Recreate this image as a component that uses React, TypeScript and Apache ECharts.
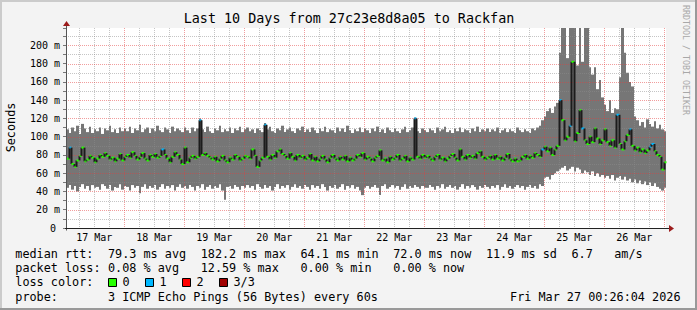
import React, { useEffect, useRef } from 'react';
import * as echarts from 'echarts';

// x values are hours after 17 Mar 00:00; each sample covers one hour
const START_HOUR = 0.7;
const SPAN_HOURS = 240;
const BIN_HOURS = 1;

const dayLabels = ['17 Mar', '18 Mar', '19 Mar', '20 Mar', '21 Mar', '22 Mar', '23 Mar', '24 Mar', '25 Mar', '26 Mar'];

// median round trip time (ms), one value per hour
const medianRtt = [
  76, 88, 70, 67, 74, 79, 88, 73, 75, 79, 77, 72, 76, 80, 78, 82, 79, 75, 77, 73, 76, 81, 74, 78,
  80, 77, 83, 79, 75, 78, 82, 76, 74, 80, 78, 81, 77, 79, 86, 80, 76, 72, 78, 83, 80, 75, 70, 88,
  72, 77, 79, 76, 78, 118, 80, 82, 79, 77, 75, 78, 73, 76, 79, 74, 72, 77, 75, 80, 78, 74, 76, 79,
  78, 76, 86, 79, 67, 74, 77, 113, 78, 75, 80, 77, 84, 86, 81, 79, 76, 82, 78, 74, 80, 77, 79, 75,
  77, 81, 74, 78, 73, 76, 79, 75, 72, 77, 80, 76, 74, 78, 75, 79, 73, 77, 74, 76, 80, 78, 82, 75,
  78, 76, 73, 77, 79, 85, 74, 76, 72, 78, 75, 77, 80, 74, 76, 79, 73, 77, 75, 120, 78, 76, 80, 77,
  79, 76, 74, 78, 80, 75, 77, 73, 76, 79, 81, 77, 74, 86, 78, 75, 80, 77, 79, 76, 82, 84, 78, 75,
  77, 79, 75, 80, 76, 78, 74, 77, 81, 75, 73, 76, 73, 74, 78, 80, 76, 79, 77, 82, 80, 78, 86, 89,
  84, 88, 80, 86, 90, 140, 118, 96, 100, 112, 182, 95, 104, 129, 109, 96, 92, 100, 94, 109, 98, 92, 96, 108,
  94, 90, 96, 88, 124, 92, 86, 95, 102, 108, 90, 85, 88, 83, 86, 82, 85, 89, 92, 84, 80, 78, 64, 72,
];

// highest ping of each hour (ms)
const smokeHigh = [
  108, 104, 110, 106, 112, 103, 114, 109, 105, 111, 104, 108, 106, 110, 103, 109, 107, 112, 105, 108, 104, 110, 106, 109,
  106, 111, 104, 109, 107, 113, 105, 108, 110, 104, 109, 106, 112, 107, 105, 110, 108, 104, 111, 106, 109, 107, 105, 110,
  107, 104, 110, 106, 109, 120, 108, 105, 111, 106, 104, 109, 107, 112, 105, 108, 106, 110, 104, 109, 107, 111, 105, 108,
  110, 106, 108, 104, 109, 107, 105, 115, 108, 111, 106, 104, 109, 107, 112, 105, 108, 110, 106, 104, 109, 107, 111, 105,
  108, 105, 110, 107, 104, 109, 106, 111, 105, 108, 107, 104, 110, 106, 109, 105, 112, 107, 104, 108, 106, 110, 105, 109,
  107, 104, 109, 106, 111, 105, 108, 104, 110, 107, 105, 109, 106, 104, 108, 111, 105, 107, 110, 121, 106, 104, 109, 107,
  105, 109, 107, 104, 110, 106, 108, 111, 105, 107, 104, 109, 106, 110, 105, 108, 107, 104, 109, 106, 111, 105, 108, 106,
  109, 105, 108, 106, 110, 104, 107, 109, 105, 108, 106, 104, 110, 107, 105, 108, 106, 104, 109, 107, 110, 112, 118, 122,
  128, 131, 126, 133, 137, 192, 225, 230, 186, 230, 230, 230, 178, 230, 182, 230, 230, 176, 168, 176, 152, 162, 143, 135,
  128, 140, 126, 131, 130, 165, 230, 192, 170, 160, 155, 122, 118, 112, 116, 110, 119, 114, 111, 117, 109, 113, 108, 106,
];

// lowest ping of each hour (ms)
const smokeLow = [
  44, 47, 42, 46, 40, 45, 48, 43, 46, 41, 47, 44, 45, 42, 48, 46, 43, 47, 41, 45, 44, 48, 42, 46,
  45, 41, 47, 44, 46, 38, 45, 48, 43, 46, 44, 47, 42, 45, 48, 43, 46, 44, 47, 41, 45, 48, 44, 46,
  43, 47, 45, 41, 46, 44, 48, 42, 45, 47, 43, 46, 44, 48, 41, 31, 45, 46, 43, 47, 45, 42, 46, 44,
  47, 44, 46, 42, 48, 45, 43, 47, 44, 46, 41, 45, 48, 43, 46, 44, 47, 42, 45, 48, 44, 46, 43, 47,
  45, 42, 47, 44, 46, 43, 48, 45, 41, 46, 44, 47, 43, 45, 48, 42, 46, 44, 47, 43, 45, 41, 36, 44,
  46, 43, 45, 47, 44, 36, 46, 48, 43, 45, 47, 44, 46, 42, 45, 48, 43, 46, 44, 47, 45, 43, 46, 44,
  44, 47, 45, 42, 46, 44, 48, 43, 45, 47, 44, 46, 42, 45, 48, 43, 46, 44, 47, 45, 42, 46, 44, 47,
  45, 43, 46, 44, 47, 42, 45, 48, 44, 46, 43, 45, 47, 44, 46, 42, 45, 47, 44, 46, 43, 48, 46, 55,
  56, 53, 58, 60, 62, 64, 66, 68, 63, 65, 67, 62, 66, 64, 60, 63, 61, 58, 62, 57, 60, 56, 58, 55,
  57, 54, 58, 52, 55, 57, 53, 56, 52, 54, 50, 53, 49, 52, 48, 51, 47, 50, 46, 49, 45, 43, 41, 44,
];

// hours (sample index) in which one of three pings was lost
const lossOneHours = [1, 38, 53, 79, 139, 190, 197, 201, 206, 220, 225, 233, 234];

const lossLabels = ['0', '1', '2', '3/3'];
const lossColors = ['#26ff00', '#00b8ff', '#ff0000', '#a00000'];

const titleText = 'Last 10 Days from 27c23e8d8a05 to Rackfan';
// legend pieces with the monospace column they start at
const rttStats = ['79.3 ms avg', '182.2 ms max', '64.1 ms min', '72.0 ms now', '11.9 ms sd', '6.7', 'am/s'];
const rttCols = [13, 26, 40, 53, 66, 78, 84];
const lossStats = ['0.08 % avg', '12.59 % max', '0.00 % min', '0.00 % now'];
const lossCols = [13, 26, 40, 53];
const probeText = '3 ICMP Echo Pings (56 Bytes) every 60s';
const dateText = 'Fri Mar 27 00:26:04 2026';

const Y_MAX = 219;
const FONT = "'DejaVu Sans Mono', monospace";
const LEG_FONT = 11.8;
const CHAR_W = 7.13;
const LEG_X0 = 15.3;

export default function App() {
  const ref = useRef<HTMLDivElement>(null);

  useEffect(() => {
    const chart = echarts.init(ref.current!, null, { renderer: 'svg', width: 697, height: 310 });

    const smokeData = smokeHigh.map((hi, i) => [START_HOUR + i * BIN_HOURS, smokeLow[i], hi]);
    const medianData = medianRtt.map((m, i) => [
      START_HOUR + i * BIN_HOURS,
      m,
      i > 0 ? medianRtt[i - 1] : m,
      lossOneHours.includes(i) ? 1 : 0,
    ]);
    const gridHours: number[] = [];
    for (let h = 6; h <= 240; h += 6) gridHours.push(h);
    const gridLevels: number[] = [];
    for (let v = 10; v <= 210; v += 10) gridLevels.push(v);

    const rowY = [254, 268.3, 281.7, 296.7];
    const colX = (c: number) => LEG_X0 + c * CHAR_W;
    const txt = (text: string, x: number, y: number, extra: any = {}) => ({
      type: 'text',
      x,
      y,
      silent: true,
      style: {
        text,
        fontFamily: FONT,
        fontSize: LEG_FONT,
        fill: '#000',
        align: 'left',
        verticalAlign: 'middle',
        ...extra,
      },
    });
    const squareX = [108.5, 145.5, 182.5, 219.5];

    const graphic: any[] = [
      { type: 'rect', silent: true, shape: { x: 0, y: 0, width: 697, height: 2 }, style: { fill: '#cbcbcb' } },
      { type: 'rect', silent: true, shape: { x: 0, y: 0, width: 2, height: 310 }, style: { fill: '#cbcbcb' } },
      { type: 'rect', silent: true, shape: { x: 0, y: 308, width: 697, height: 2 }, style: { fill: '#999999' } },
      { type: 'rect', silent: true, shape: { x: 695, y: 0, width: 2, height: 310 }, style: { fill: '#999999' } },
      txt(titleText, 349, 18.7, { fontSize: 13.4, align: 'center' }),
      {
        type: 'text', x: 10.5, y: 127.5, rotation: Math.PI / 2, silent: true,
        style: { text: 'Seconds', fontFamily: FONT, fontSize: LEG_FONT, fill: '#000', align: 'center', verticalAlign: 'middle' },
      },
      {
        type: 'text', x: 686, y: 60, rotation: -Math.PI / 2, silent: true,
        style: { text: 'RRDTOOL / TOBI OETIKER', fontFamily: FONT, fontSize: 8.3, fill: '#a8a8a8', align: 'center', verticalAlign: 'middle' },
      },
      txt('median rtt:', LEG_X0, rowY[0]),
      ...rttStats.map((s, k) => txt(s, colX(rttCols[k]), rowY[0])),
      txt('packet loss:', LEG_X0, rowY[1]),
      ...lossStats.map((s, k) => txt(s, colX(lossCols[k]), rowY[1])),
      txt('loss color:', LEG_X0, rowY[2]),
      ...lossLabels.map((s, k) => ({
        type: 'rect', silent: true,
        shape: { x: squareX[k], y: 278.5, width: 8, height: 8 },
        style: { fill: lossColors[k], stroke: '#000', lineWidth: 1 },
      })),
      ...lossLabels.map((s, k) => txt(s, squareX[k] + 14, rowY[2])),
      txt('probe:', LEG_X0, rowY[3]),
      txt(probeText, colX(13), rowY[3]),
      txt(dateText, 680.5, rowY[3], { align: 'right' }),
    ];

    const option: any = {
      animation: false,
      backgroundColor: '#f3f3f3',
      grid: { left: 66, right: 31, top: 28, bottom: 82, show: true, backgroundColor: '#ffffff', borderWidth: 0 },
      xAxis: {
        type: 'value',
        min: START_HOUR,
        max: START_HOUR + SPAN_HOURS,
        axisLine: { show: false },
        axisTick: { show: false },
        splitLine: { show: false },
        axisLabel: {
          customValues: dayLabels.map((_, d) => d * 24 + 12),
          formatter: (v: number) => dayLabels[Math.round((v - 12) / 24)] ?? '',
          fontFamily: FONT,
          fontSize: 10,
          color: '#000',
          margin: 4,
        },
      },
      yAxis: {
        type: 'value',
        min: 0,
        max: Y_MAX,
        interval: 20,
        axisLine: { show: false },
        axisTick: { show: true, length: 3, lineStyle: { color: '#777' } },
        minorTick: { show: true, splitNumber: 2, length: 3, lineStyle: { color: '#777' } },
        splitLine: { show: false },
        minorSplitLine: { show: false },
        axisLabel: {
          fontFamily: FONT,
          fontSize: 10,
          color: '#000',
          margin: 6,
          showMaxLabel: false,
          formatter: (v: number) => (v === 0 ? '{z|0}' : `${v} m`),
          rich: { z: { fontFamily: FONT, fontSize: 10, color: '#000', padding: [0, 4, 0, 0] } },
        },
      },
      graphic,
      series: [
        {
          type: 'custom',
          z: 2,
          clip: false,
          silent: true,
          data: smokeData,
          encode: { x: 0, y: [1, 2] },
          renderItem: (params: any, api: any) => {
            const t = api.value(0);
            const lo = api.value(1);
            const hi = api.value(2);
            const p1 = api.coord([t, hi]);
            const p2 = api.coord([t + BIN_HOURS, lo]);
            const cs = params.coordSys;
            const top = Math.max(p1[1], cs.y);
            const x0 = Math.round(p1[0]);
            const x1 = Math.round(p2[0]);
            return {
              type: 'rect',
              shape: { x: x0, y: top, width: x1 - x0, height: p2[1] - top },
              style: { fill: '#767676' },
            };
          },
        },
        {
          type: 'custom',
          z: 3,
          clip: false,
          silent: true,
          data: gridHours.map((h) => [h, 0]),
          encode: { x: 0, y: 1 },
          renderItem: (params: any, api: any) => {
            const h = api.value(0);
            const cs = params.coordSys;
            const x = Math.round(api.coord([h, 0])[0]) + 0.5;
            const major = h % 24 === 0;
            return {
              type: 'line',
              shape: { x1: x, y1: cs.y, x2: x, y2: cs.y + cs.height },
              style: {
                stroke: major ? 'rgba(228,60,60,0.5)' : 'rgba(140,140,140,0.5)',
                lineWidth: 1,
                lineDash: [1, 1],
              },
            };
          },
        },
        {
          type: 'custom',
          z: 3,
          clip: false,
          silent: true,
          data: gridLevels.map((v) => [START_HOUR, v]),
          encode: { x: 0, y: 1 },
          renderItem: (params: any, api: any) => {
            const v = api.value(1);
            const cs = params.coordSys;
            const y = Math.round(api.coord([START_HOUR, v])[1]) + 0.5;
            const major = v % 20 === 0;
            return {
              type: 'line',
              shape: { x1: cs.x, y1: y, x2: cs.x + cs.width, y2: y },
              style: {
                stroke: major ? 'rgba(228,60,60,0.5)' : 'rgba(140,140,140,0.5)',
                lineWidth: 1,
                lineDash: [1, 1],
              },
            };
          },
        },
        {
          type: 'custom',
          z: 4,
          clip: false,
          silent: true,
          data: medianData,
          encode: { x: 0, y: 1 },
          renderItem: (params: any, api: any) => {
            const t = api.value(0);
            const m = api.value(1);
            const prev = api.value(2);
            const loss = api.value(3);
            const a = api.coord([t, m]);
            const b = api.coord([t + BIN_HOURS, m]);
            const p = api.coord([t, prev]);
            const x0 = Math.round(a[0]) + 0.5;
            const x1 = Math.round(b[0]) + 0.5;
            return {
              type: 'group',
              children: [
                {
                  type: 'line',
                  shape: { x1: x0, y1: p[1], x2: x0, y2: a[1] },
                  style: { stroke: '#1c1c1c', lineWidth: 2 },
                },
                {
                  type: 'line',
                  shape: { x1: x0, y1: a[1], x2: x1, y2: a[1] },
                  style: { stroke: loss ? lossColors[1] : lossColors[0], lineWidth: 2 },
                },
              ],
            };
          },
        },
        {
          type: 'custom',
          z: 5,
          clip: false,
          silent: true,
          data: [[START_HOUR, 0]],
          encode: { x: 0, y: 1 },
          renderItem: (params: any, api: any) => {
            const cs = params.coordSys;
            const o = api.coord([START_HOUR, 0]);
            const ax = Math.round(o[0]) + 0.5;
            const ay = Math.round(o[1]) + 0.5;
            const right = cs.x + cs.width;
            return {
              type: 'group',
              children: [
                { type: 'line', shape: { x1: ax, y1: ay + 2, x2: ax, y2: cs.y - 2 }, style: { stroke: '#555', lineWidth: 1 } },
                { type: 'line', shape: { x1: ax - 1.5, y1: ay, x2: right + 3, y2: ay }, style: { stroke: '#222', lineWidth: 1 } },
                {
                  type: 'polygon',
                  shape: { points: [[ax - 3.5, cs.y - 2], [ax + 3.5, cs.y - 2], [ax, cs.y - 7]] },
                  style: { fill: '#9c1c1c' },
                },
                {
                  type: 'polygon',
                  shape: { points: [[right + 3, ay - 3.5], [right + 3, ay + 3.5], [right + 8, ay]] },
                  style: { fill: '#9c1c1c' },
                },
              ],
            };
          },
        },
      ],
    };

    chart.setOption(option);
    return () => chart.dispose();
  }, []);

  return <div ref={ref} style={{ position: 'fixed', left: 0, top: 0, width: 697, height: 310 }} />;
}
